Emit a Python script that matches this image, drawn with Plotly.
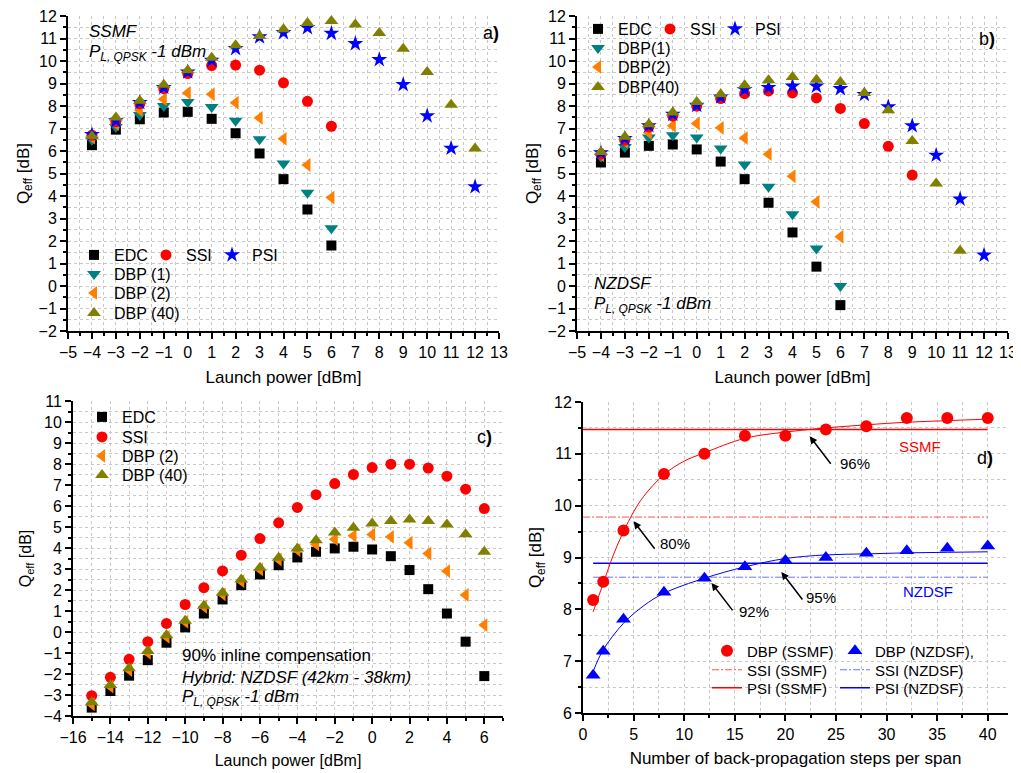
import plotly.graph_objects as go

# Page body has an 8px margin, so the figure is sized to end at the window edge
OFF = 8
W, H = 1021 - OFF, 773 - OFF
FONT = "Arial, 'Liberation Sans', sans-serif"


def fx(p):
    return (p - OFF) / W


def fy(p):
    return 1 - (p - OFF) / H


# ---------------- data ----------------
# Panel a) SSMF
a_x = [-4, -3, -2, -1, 0, 1, 2, 3, 4, 5, 6]
a_x_long = [-4, -3, -2, -1, 0, 1, 2, 3, 4, 5, 6, 7, 8, 9, 10, 11, 12]
a_edc = [6.26, 6.95, 7.41, 7.71, 7.74, 7.43, 6.79, 5.89, 4.75, 3.40, 1.80]
a_dbp1 = [6.5, 7.07, 7.6, 8.0, 8.18, 7.96, 7.34, 6.52, 5.44, 4.14, 2.57]
a_dbp2 = [6.6, 7.2, 7.81, 8.3, 8.58, 8.52, 8.15, 7.47, 6.54, 5.38, 3.93]
a_ssi = [6.7, 7.3, 8.1, 8.77, 9.44, 9.8, 9.82, 9.59, 9.03, 8.21, 7.1]
a_psi = [6.73, 7.34, 8.15, 8.82, 9.51, 10.03, 10.55, 11.07, 11.26, 11.48, 11.23,
         10.77, 10.06, 8.95, 7.56, 6.12, 4.41]
a_dbp40 = [6.66, 7.49, 8.23, 8.94, 9.59, 10.14, 10.7, 11.11, 11.41, 11.69, 11.78,
           11.62, 11.25, 10.55, 9.51, 8.06, 6.11]

# Panel b) NZDSF
b_x = [-4, -3, -2, -1, 0, 1, 2, 3, 4, 5, 6]
b_x_ssi = [-4, -3, -2, -1, 0, 1, 2, 3, 4, 5, 6, 7, 8, 9]
b_x_psi = [-4, -3, -2, -1, 0, 1, 2, 3, 4, 5, 6, 7, 8, 9, 10, 11, 12]
b_x_dbp40 = [-4, -3, -2, -1, 0, 1, 2, 3, 4, 5, 6, 7, 8, 9, 10, 11]
b_edc = [5.49, 5.93, 6.23, 6.29, 6.07, 5.53, 4.75, 3.70, 2.38, 0.86, -0.85]
b_dbp1 = [5.74, 6.18, 6.6, 6.7, 6.6, 6.11, 5.4, 4.41, 3.19, 1.67, 0.0]
b_dbp2 = [5.81, 6.41, 6.81, 7.12, 7.22, 7.03, 6.58, 5.86, 4.88, 3.74, 2.19]
b_ssi = [5.86, 6.48, 7.07, 7.55, 7.99, 8.33, 8.55, 8.67, 8.58, 8.36, 7.89, 7.22, 6.21, 4.93]
b_psi = [5.92, 6.55, 7.12, 7.63, 8.03, 8.40, 8.73, 8.82, 8.88, 8.88, 8.77, 8.51, 7.96,
         7.12, 5.81, 3.86, 1.37]
b_dbp40 = [5.96, 6.63, 7.19, 7.71, 8.18, 8.52, 8.92, 9.14, 9.29, 9.17, 9.07, 8.58, 7.81,
           6.45, 4.56, 1.57]

# Panel c) hybrid
c_x = [-15, -14, -13, -12, -11, -10, -9, -8, -7, -6, -5, -4, -3, -2, -1, 0, 1, 2, 3, 4, 5, 6]
c_edc = [-3.6, -2.81, -2.08, -1.34, -0.51, 0.22, 0.88, 1.55, 2.23, 2.74, 3.18, 3.55, 3.82,
         3.98, 4.06, 3.93, 3.61, 2.95, 2.04, 0.88, -0.46, -2.1]
c_ssi = [-3.03, -2.16, -1.30, -0.46, 0.41, 1.31, 2.11, 2.91, 3.66, 4.45, 5.2, 5.93, 6.54,
         7.07, 7.5, 7.83, 7.99, 7.99, 7.81, 7.42, 6.8, 5.88]
c_dbp2 = [-3.44, -2.6, -1.81, -0.99, -0.23, 0.49, 1.2, 1.80, 2.42, 2.98, 3.45, 3.9, 4.17,
          4.42, 4.58, 4.64, 4.53, 4.25, 3.74, 2.90, 1.76, 0.33]
c_dbp40 = [-3.35, -2.52, -1.73, -0.91, -0.15, 0.54, 1.25, 1.87, 2.5, 3.06, 3.53, 3.98, 4.37,
           4.74, 4.96, 5.17, 5.29, 5.36, 5.29, 5.12, 4.66, 3.82]

# Panel d) steps per span
d_steps = [1, 2, 4, 8, 12, 16, 20, 24, 28, 32, 36, 40]
d_ssmf = [8.18, 8.53, 9.52, 10.61, 11.0, 11.35, 11.35, 11.47, 11.53, 11.69, 11.69, 11.69]
d_nzdsf = [6.73, 7.19, 7.81, 8.33, 8.6, 8.82, 8.94, 9.0, 9.08, 9.13, 9.18, 9.22]
fit_ssmf_x = [1, 2, 3, 4, 5, 6, 8, 10, 12, 16, 20, 24, 28, 32, 36, 40]
fit_ssmf_y = [7.95, 8.5, 9.05, 9.5, 9.88, 10.18, 10.6, 10.86, 11.02, 11.3, 11.42, 11.5,
              11.56, 11.61, 11.64, 11.67]
fit_nzdsf_x = [1, 2, 4, 6, 8, 12, 16, 20, 24, 28, 32, 36, 40]
fit_nzdsf_y = [6.8, 7.22, 7.73, 8.07, 8.31, 8.6, 8.82, 8.98, 9.05, 9.07, 9.09, 9.10, 9.11]
ref_x_ssmf = [0, 40]
ref_x_nzdsf = [1, 40]
psi_ssmf = 11.47
ssi_ssmf = 9.78
psi_nzdsf = 8.89
ssi_nzdsf = 8.62

# ---------------- styles ----------------
C_EDC = "#000000"
C_SSI = "#ff0000"
C_PSI = "#0000ff"
C_D1 = "#008080"
C_D2 = "#ff8000"
C_D40 = "#808000"

fig = go.Figure()


def mk(x, y, name, sym, color, size, xa, ya, legend, lw=None):
    fig.add_trace(go.Scatter(
        x=x, y=y, mode="markers", name=name,
        marker=dict(symbol=sym, color=color, size=size, line=dict(width=0)),
        xaxis=xa, yaxis=ya, legend=legend, cliponaxis=False, legendwidth=lw))


# Panel a
mk(a_x, a_edc, "EDC", "square", C_EDC, 10, "x", "y", "legend", 27)
mk(a_x, a_dbp1, "DBP (1)", "triangle-down", C_D1, 12, "x", "y", "legend2")
mk(a_x, a_dbp2, "DBP (2)", "triangle-left", C_D2, 12, "x", "y", "legend3")
mk(a_x, a_ssi, "SSI", "circle", C_SSI, 11, "x", "y", "legend", 21)
mk(a_x_long, a_psi, "PSI", "star", C_PSI, 12, "x", "y", "legend", 40)
mk(a_x_long, a_dbp40, "DBP (40)", "triangle-up", C_D40, 12, "x", "y", "legend4")

# Panel b
mk(b_x, b_edc, "EDC", "square", C_EDC, 10, "x2", "y2", "legend5", 27)
mk(b_x, b_dbp1, "DBP(1)", "triangle-down", C_D1, 12, "x2", "y2", "legend6")
mk(b_x, b_dbp2, "DBP(2)", "triangle-left", C_D2, 12, "x2", "y2", "legend7")
mk(b_x_ssi, b_ssi, "SSI", "circle", C_SSI, 11, "x2", "y2", "legend5", 20)
mk(b_x_psi, b_psi, "PSI", "star", C_PSI, 12, "x2", "y2", "legend5", 40)
mk(b_x_dbp40, b_dbp40, "DBP(40)", "triangle-up", C_D40, 12, "x2", "y2", "legend8")

# Panel c
mk(c_x, c_edc, "EDC", "square", C_EDC, 10, "x3", "y3", "legend9")
mk(c_x, c_ssi, "SSI", "circle", C_SSI, 11, "x3", "y3", "legend10")
mk(c_x, c_dbp2, "DBP (2)", "triangle-left", C_D2, 12, "x3", "y3", "legend11")
mk(c_x, c_dbp40, "DBP (40)", "triangle-up", C_D40, 12, "x3", "y3", "legend12")


# Panel d lines
def ln(x, y, name, color, width, dash, legend, showlegend=True, shape="linear", lw=None):
    fig.add_trace(go.Scatter(
        x=x, y=y, mode="lines", name=name, line=dict(color=color, width=width, dash=dash, shape=shape),
        xaxis="x4", yaxis="y4", legend=legend, showlegend=showlegend, legendwidth=lw))


DASHDOT = "7px,2px,2px,2px"
ln(ref_x_ssmf, [ssi_ssmf, ssi_ssmf], "SSI (SSMF)", "#ff5050", 1, DASHDOT, "legend14", lw=83)
ln(ref_x_nzdsf, [ssi_nzdsf, ssi_nzdsf], "SSI (NZDSF)", "#7070ff", 1, DASHDOT, "legend14", lw=110)
ln(ref_x_ssmf, [psi_ssmf, psi_ssmf], "PSI (SSMF)", "#ff0000", 1.6, "solid", "legend15", lw=83)
ln(ref_x_nzdsf, [psi_nzdsf, psi_nzdsf], "PSI (NZDSF)", "#0000ff", 1.6, "solid", "legend15", lw=110)
ln(fit_ssmf_x, fit_ssmf_y, "fit SSMF", "#ff0000", 1, "solid", "legend13", False, "spline")
ln(fit_nzdsf_x, fit_nzdsf_y, "fit NZDSF", "#0000ff", 1, "solid", "legend13", False, "spline")
mk(d_steps, d_ssmf, "DBP (SSMF)", "circle", C_SSI, 12, "x4", "y4", "legend13", 83)
mk(d_steps, d_nzdsf, "DBP (NZDSF),", "triangle-up", C_PSI, 13, "x4", "y4", "legend13", 110)

# ---------------- axes ----------------
GRID = "#c8c8c8"


def axis(domain, rng, dtick, mdtick, title, anchor, size=16, tsize=17, standoff=8):
    return dict(
        domain=domain, range=rng, dtick=dtick, anchor=anchor,
        showline=True, linecolor="black", linewidth=2, mirror=False,
        ticks="outside", ticklen=6, tickwidth=1.5, tickcolor="black",
        showgrid=True, gridcolor=GRID, griddash="dot", gridwidth=1, zeroline=False,
        tickfont=dict(family=FONT, size=size, color="black"), ticklabeloverflow="allow",
        minor=dict(dtick=mdtick, ticks="outside", ticklen=3, tickwidth=1.5, tickcolor="black",
                   showgrid=True, gridcolor=GRID, griddash="dot", gridwidth=1),
        title=dict(text=title, font=dict(family=FONT, size=tsize, color="black"), standoff=standoff),
        fixedrange=True, automargin=False,
    )


QT = "Q<sub>eff</sub> [dB]"
LP = "Launch power [dBm]"

fig.update_layout(
    xaxis=axis([fx(68), fx(499)], [-5, 13], 1, 0.5, LP, "y", standoff=11),
    yaxis=axis([fy(331), fy(16)], [-2, 12], 1, 0.5, QT, "x", standoff=5),
    xaxis2=axis([fx(577), fx(1008)], [-5, 13], 1, 0.5, LP, "y2", standoff=11),
    yaxis2=axis([fy(331), fy(16)], [-2, 12], 1, 0.5, QT, "x2", standoff=5),
    xaxis3=axis([fx(73), fx(503)], [-16, 7], 2, 1, LP, "y3", 16, 16, standoff=10),
    yaxis3=axis([fy(716), fy(401)], [-4, 11], 1, 0.5, QT, "x3", 16, 16),
    xaxis4=axis([fx(583), fx(1008)], [0, 42], 5, 2.5,
                "Number of back-propagation steps per span", "y4", standoff=10),
    yaxis4=axis([fy(713), fy(402)], [6, 12], 1, 0.5, QT, "x4"),
)


# ---------------- legends ----------------
def legend(xsym, ypx, size=16):
    return dict(x=fx(xsym - 20), y=fy(ypx), xanchor="left", yanchor="middle",
                orientation="h", bgcolor="rgba(0,0,0,0)", borderwidth=0,
                font=dict(family=FONT, size=size, color="black"))


fig.update_layout(
    legend=legend(94, 255), legend2=legend(94, 274), legend3=legend(94, 293), legend4=legend(94, 313),
    legend5=legend(598, 29), legend6=legend(598, 48), legend7=legend(598, 67), legend8=legend(598, 87),
    legend9=legend(102, 417), legend10=legend(102, 437), legend11=legend(102, 456), legend12=legend(102, 475),
    legend13=legend(727, 651, 15), legend14=legend(727, 670, 15), legend15=legend(727, 688, 15),
)

# ---------------- annotations ----------------
ann = []


def txt(text, xpx, ypx, size=17, color="black", xanchor="left"):
    ann.append(dict(text=text, x=fx(xpx), y=fy(ypx), xref="paper", yref="paper",
                    xanchor=xanchor, yanchor="middle", showarrow=False,
                    font=dict(family=FONT, size=size, color=color)))


PL = "<i>P<sub>L, QPSK</sub> -1 dBm</i>"
txt("<i>SSMF</i>", 87, 31)
txt(PL, 87, 53)
txt("a<b>)</b>", 491, 33, 18, xanchor="center")
txt("b<b>)</b>", 987, 39, 18, xanchor="center")
txt("<i>NZDSF</i>", 592, 283)
txt(PL, 592, 305)
txt("c<b>)</b>", 484, 437, 18, xanchor="center")
txt("90% inline compensation", 180, 655)
txt("<i>Hybrid: NZDSF (42km - 38km)</i>", 180, 677)
txt(PL, 180, 698)
txt("d<b>)</b>", 985, 458, 18, xanchor="center")
txt("SSMF", 897, 447, 15, "#ff0000")
txt("NZDSF", 901, 591, 15, "#0000ff")
txt("80%", 675, 543, 15, xanchor="center")
txt("96%", 855, 463, 15, xanchor="center")
txt("92%", 754, 611, 15, xanchor="center")
txt("95%", 821, 597, 15, xanchor="center")

for tx, ty in [(5.0, 9.7), (22.4, 11.34), (12.7, 8.51), (19.6, 8.72)]:
    ann.append(dict(text="&nbsp;", x=tx, y=ty, xref="x4", yref="y4", ax=23, ay=30,
                    showarrow=True, arrowhead=2, arrowsize=1, arrowwidth=1.5,
                    arrowcolor="black", standoff=0, font=dict(size=2)))

fig.update_layout(
    annotations=ann,
    width=W, height=H,
    margin=dict(l=0, r=0, t=0, b=0, pad=0, autoexpand=False),
    paper_bgcolor="white", plot_bgcolor="white",
    font=dict(family=FONT, color="black"),
    showlegend=True,
)

fig.write_html("out.html")
